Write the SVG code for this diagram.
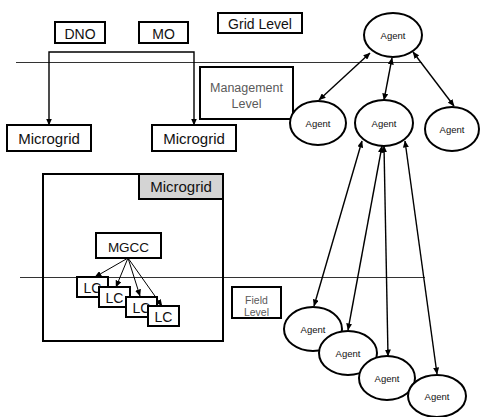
<svg xmlns="http://www.w3.org/2000/svg" width="480" height="417" viewBox="0 0 480 417">
<defs>
<marker id="ah" markerWidth="7" markerHeight="6" refX="6.5" refY="3" orient="auto-start-reverse" markerUnits="userSpaceOnUse">
<path d="M0,0 L7,3 L0,6 z" fill="#000"/>
</marker>
<style>
.bx{fill:#fff;stroke:#000;stroke-width:2}
.el{fill:#fff;stroke:#000;stroke-width:2}
.t{font-family:"Liberation Sans",Arial,sans-serif;fill:#111;text-anchor:middle}
.g{fill:#5a5a5a}
.lv{stroke:#333;stroke-width:1;fill:none}
.c{stroke:#000;stroke-width:1.4;fill:none;marker-start:url(#ah);marker-end:url(#ah)}
.c1{stroke:#000;stroke-width:1;fill:none;marker-end:url(#ah)}
</style>
</defs>
<rect width="480" height="417" fill="#fff"/>
<g id="levels">
<line class="lv" x1="16" y1="62.5" x2="422" y2="62.5"/>
<line class="lv" x1="20" y1="277.5" x2="425" y2="277.5"/>
</g>
<g id="dno"><rect class="bx" x="55" y="22" width="50" height="21"/><text class="t" x="80" y="38.5" font-size="14">DNO</text></g>
<g id="mo"><rect class="bx" x="139" y="22" width="49" height="21"/><text class="t" x="163.5" y="38.5" font-size="14">MO</text></g>
<g id="gridlevel"><rect class="bx" x="218" y="13" width="84" height="20"/><text class="t" x="260" y="28.5" font-size="14">Grid Level</text></g>
<g id="mgmtlevel"><rect class="bx" x="200" y="67" width="93" height="52"/><text class="t g" x="246.5" y="92" font-size="12.5">Management</text><text class="t g" x="246.5" y="108" font-size="12.5">Level</text></g>
<g id="microgrid1"><rect class="bx" x="7" y="125" width="84" height="26"/><text class="t" x="49" y="143.5" font-size="15">Microgrid</text></g>
<g id="microgrid2"><rect class="bx" x="152" y="125" width="84" height="26"/><text class="t" x="194" y="143.5" font-size="15">Microgrid</text></g>
<g id="microgridbox"><rect x="43" y="174" width="180" height="167" fill="none" stroke="#000" stroke-width="2"/><rect x="139" y="174" width="84" height="25" fill="#d4d4d4" stroke="#000" stroke-width="2"/><text class="t" x="181" y="192" font-size="15">Microgrid</text></g>
<g id="mgcc"><rect class="bx" x="96" y="233" width="65" height="25"/><text class="t" x="128.5" y="251.5" font-size="13.5">MGCC</text></g>
<g id="fieldlevel"><rect class="bx" x="232" y="287" width="49" height="31"/><text class="t g" x="256.5" y="304" font-size="10.5">Field</text><text class="t g" x="256.5" y="316" font-size="10.5">Level</text></g>
<g id="connectors">
<path class="c" d="M49,125 V52 H194 V125"/>
<line class="c" x1="370" y1="53" x2="319" y2="100"/>
<line class="c" x1="392" y1="58" x2="384" y2="100"/>
<line class="c" x1="413" y1="52" x2="454" y2="106"/>
<line class="c" x1="362" y1="141" x2="314" y2="306"/>
<line class="c" x1="382" y1="146" x2="348" y2="330"/>
<line class="c" x1="384" y1="146" x2="388" y2="356"/>
<line class="c" x1="405" y1="141" x2="437" y2="374"/>
<line class="c1" x1="128" y1="258" x2="95" y2="277"/>
<line class="c1" x1="128" y1="258" x2="116" y2="287"/>
<line class="c1" x1="128" y1="258" x2="140" y2="296"/>
<line class="c1" x1="128" y1="258" x2="162" y2="306"/>
</g>
<g id="lc1"><rect class="bx" x="77" y="277" width="31" height="20"/><text class="t" x="92.5" y="293" font-size="14">LC</text></g>
<g id="lc2"><rect class="bx" x="99" y="287" width="31" height="20"/><text class="t" x="114.5" y="303" font-size="14">LC</text></g>
<g id="lc3"><rect class="bx" x="126" y="297" width="31" height="20"/><text class="t" x="141.5" y="313" font-size="14">LC</text></g>
<g id="lc4"><rect class="bx" x="148" y="306" width="31" height="20"/><text class="t" x="163.5" y="322" font-size="14">LC</text></g>
<g id="agent-top"><ellipse class="el" cx="393" cy="35" rx="29" ry="22"/><text class="t" x="393" y="39" font-size="9.5">Agent</text></g>
<g id="agent-m1"><ellipse class="el" cx="318" cy="123" rx="28" ry="22"/><text class="t" x="318" y="127" font-size="9.5">Agent</text></g>
<g id="agent-m2"><ellipse class="el" cx="384" cy="123" rx="29" ry="23"/><text class="t" x="384" y="127" font-size="9.5">Agent</text></g>
<g id="agent-m3"><ellipse class="el" cx="452" cy="129" rx="27" ry="22"/><text class="t" x="452" y="133" font-size="9.5">Agent</text></g>
<g id="agent-f1"><ellipse class="el" cx="313" cy="329" rx="29" ry="22"/><text class="t" x="313" y="333" font-size="9.5">Agent</text></g>
<g id="agent-f2"><ellipse class="el" cx="348" cy="353" rx="29" ry="22"/><text class="t" x="348" y="357" font-size="9.5">Agent</text></g>
<g id="agent-f3"><ellipse class="el" cx="387" cy="378" rx="28" ry="22"/><text class="t" x="387" y="382" font-size="9.5">Agent</text></g>
<g id="agent-f4"><ellipse class="el" cx="437" cy="396" rx="29" ry="21"/><text class="t" x="437" y="400" font-size="9.5">Agent</text></g>
</svg>
